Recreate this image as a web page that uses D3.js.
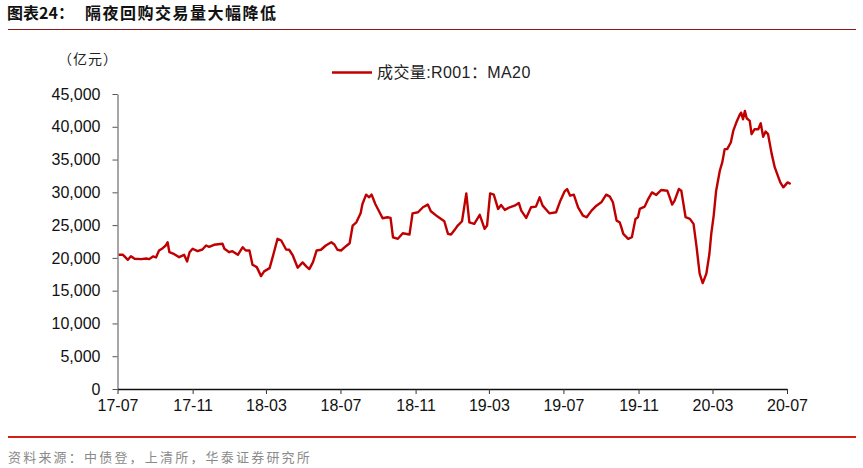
<!DOCTYPE html>
<html>
<head>
<meta charset="utf-8">
<script src="https://cdn.jsdelivr.net/npm/d3@7"></script>
<style>
  body { margin: 0; background: #fff; }
  svg { display: block; font-family: "Liberation Sans", Arial, "Noto Sans CJK SC", sans-serif; }
</style>
</head>
<body>
<div id="chart"></div>
<script>
// ---- data ----
var titleLead = "图表24：";
var titleText = "隔夜回购交易量大幅降低";
var unitLabel = "（亿元）";
var seriesName = "成交量:R001：MA20";
var sourceText = "资料来源：中债登，上清所，华泰证券研究所";

var xTickLabels = ["17-07", "17-11", "18-03", "18-07", "18-11", "19-03", "19-07", "19-11", "20-03", "20-07"];
var yTicks = [0, 5000, 10000, 15000, 20000, 25000, 30000, 35000, 40000, 45000];

var dates = [
  "2017-07-03","2017-07-10","2017-07-18","2017-07-23","2017-07-29","2017-08-09","2017-08-17","2017-08-22","2017-08-28","2017-09-02",
  "2017-09-07","2017-09-13","2017-09-18","2017-09-21","2017-09-24","2017-10-02","2017-10-10","2017-10-18","2017-10-23","2017-10-27",
  "2017-11-01","2017-11-09","2017-11-17","2017-11-23","2017-11-28","2017-12-06","2017-12-20","2017-12-23","2017-12-31","2018-01-05",
  "2018-01-14","2018-01-22","2018-01-27","2018-02-02","2018-02-07","2018-02-14","2018-02-21","2018-02-26","2018-03-07","2018-03-12",
  "2018-03-20","2018-03-26","2018-04-03","2018-04-08","2018-04-14","2018-04-22","2018-04-30","2018-05-06","2018-05-11","2018-05-17",
  "2018-05-23","2018-05-30","2018-06-07","2018-06-16","2018-06-21","2018-06-26","2018-07-02","2018-07-10","2018-07-16","2018-07-21",
  "2018-07-27","2018-08-03","2018-08-06","2018-08-12","2018-08-17","2018-08-21","2018-08-27","2018-09-03","2018-09-08","2018-09-16",
  "2018-09-21","2018-09-25","2018-10-03","2018-10-11","2018-10-22","2018-10-27","2018-11-05","2018-11-13","2018-11-21","2018-11-26",
  "2018-12-07","2018-12-18","2018-12-24","2018-12-29","2019-01-04","2019-01-09","2019-01-16","2019-01-23","2019-01-28","2019-02-05",
  "2019-02-14","2019-02-22","2019-02-26","2019-03-03","2019-03-09","2019-03-16","2019-03-21","2019-03-27","2019-04-04","2019-04-12",
  "2019-04-19","2019-04-23","2019-05-01","2019-05-09","2019-05-17","2019-05-23","2019-05-28","2019-06-08","2019-06-19","2019-06-26",
  "2019-07-03","2019-07-07","2019-07-12","2019-07-18","2019-07-25","2019-08-02","2019-08-08","2019-08-16","2019-08-24","2019-09-01",
  "2019-09-09","2019-09-15","2019-09-20","2019-09-26","2019-10-01","2019-10-03","2019-10-07","2019-10-15","2019-10-21","2019-10-27",
  "2019-10-31","2019-11-03","2019-11-11","2019-11-16","2019-11-23","2019-11-30","2019-12-08","2019-12-18","2019-12-22","2019-12-26",
  "2019-12-30","2020-01-06","2020-01-10","2020-01-17","2020-01-24","2020-01-30","2020-02-04","2020-02-09","2020-02-14","2020-02-20",
  "2020-02-25","2020-02-28","2020-03-03","2020-03-07","2020-03-13","2020-03-17","2020-03-21","2020-03-25","2020-03-31","2020-04-04",
  "2020-04-09","2020-04-15","2020-04-17","2020-04-20","2020-04-23","2020-04-26","2020-05-01","2020-05-04","2020-05-09","2020-05-15",
  "2020-05-19","2020-05-23","2020-05-27","2020-05-31","2020-06-06","2020-06-11","2020-06-14","2020-06-20","2020-06-25","2020-07-02",
  "2020-07-07"
];

var volume = [
  20470,20470,19710,20260,19860,19810,19910,19810,20220,20070,
  21130,21480,21890,22390,20870,20570,20110,20470,19460,20870,
  21390,21030,21280,21890,21690,22000,22150,21390,20870,21030,
  20470,21630,21130,21130,18960,18590,17220,17940,18440,20110,
  22910,22650,21280,21240,20370,18500,19310,18700,18290,19350,
  21130,21240,21890,22390,22040,21240,21130,21780,22240,24930,
  25430,26800,28230,29650,29240,29650,28230,26960,26050,26200,
  26100,23150,22910,23760,23560,26800,26960,27720,28130,27110,
  26300,25590,23670,23560,24280,24930,25590,29840,25430,25190,
  26560,24430,24930,29840,29650,27470,28080,27320,27720,27970,
  28380,27210,26100,27720,27820,29240,27970,26800,26960,28730,
  30150,30510,29490,29650,27720,26450,26200,27210,27970,28480,
  29650,29340,28480,25690,25430,24930,23670,22910,23150,25950,
  26200,27470,27820,28840,29990,29600,30360,30250,29240,28130,
  28730,30510,30250,26200,25950,25190,21630,17590,16160,17590,
  20630,23670,26450,30250,33290,34560,36590,36590,37600,39370,
  40640,41910,42160,41150,42420,41300,40900,38870,39630,39630,
  40540,38460,39270,38870,35830,33800,33040,31520,30760,31520,
  31270
];

// ---- layout ----
var width = 863,
    height = 468,
    plotLeft = 117.5,
    plotRight = 787,
    plotTop = 94,
    plotBottom = 389;

var parseDay = d3.timeParse("%Y-%m-%d");
var parseTick = d3.timeParse("%y-%m");

var points = dates.map(function(d, i) {
  return { date: parseDay(d), value: volume[i] };
});

var svg = d3.select("#chart").append("svg")
    .attr("width", width)
    .attr("height", height);

// title
svg.append("text")
    .attr("x", 7)
    .attr("y", 19)
    .style("font-family", "'Noto Sans CJK SC', sans-serif")
    .style("font-weight", "bold")
    .style("font-size", "16px")
    .style("fill", "#111")
    .text(titleLead);

svg.append("text")
    .attr("x", 85)
    .attr("y", 19)
    .style("font-family", "'Noto Sans CJK SC', sans-serif")
    .style("font-weight", "bold")
    .style("font-size", "16px")
    .style("letter-spacing", "1.5px")
    .style("fill", "#111")
    .text(titleText);

svg.append("line")
    .attr("x1", 8).attr("x2", 856)
    .attr("y1", 29.5).attr("y2", 29.5)
    .style("stroke", "#8c1a1a")
    .style("stroke-width", 1);

// scales
var xScale = d3.scaleTime()
    .domain([parseTick("17-07"), parseTick("20-07")])
    .range([plotLeft, plotRight]);

var yScale = d3.scaleLinear()
    .domain([0, 45000])
    .range([plotBottom, plotTop]);

// y axis
var yaxis = d3.axisLeft(yScale)
    .tickValues(yTicks)
    .tickSize(5)
    .tickSizeOuter(0)
    .tickPadding(12)
    .tickFormat(d3.format(","));

var gy = svg.append("g")
    .attr("transform", "translate(" + plotLeft + ",0)")
    .call(yaxis);

gy.select(".domain").style("stroke", "#777").style("stroke-width", 1.3);
gy.selectAll(".tick line").style("stroke", "#555");
gy.selectAll(".tick text")
    .style("font-family", "'Liberation Sans', Arial, sans-serif")
    .style("font-size", "16px")
    .style("fill", "#111");

// x axis
var xaxis = d3.axisBottom(xScale)
    .tickValues(xTickLabels.map(function(t) { return parseTick(t); }))
    .tickFormat(d3.timeFormat("%y-%m"))
    .tickSize(5)
    .tickSizeOuter(0)
    .tickPadding(6);

var gx = svg.append("g")
    .attr("transform", "translate(0," + plotBottom + ")")
    .call(xaxis);

gx.select(".domain").style("stroke", "#111").style("stroke-width", 1.3);
gx.selectAll(".tick line").style("stroke", "#333");
gx.selectAll(".tick text")
    .style("font-family", "'Liberation Sans', Arial, sans-serif")
    .style("font-size", "16px")
    .style("fill", "#111");

// unit label
svg.append("text")
    .attr("x", 58)
    .attr("y", 64)
    .style("font-family", "'Noto Sans CJK SC', sans-serif")
    .style("font-size", "14px")
    .style("letter-spacing", "1px")
    .style("fill", "#222")
    .text(unitLabel);

// the series
var line = d3.line()
    .x(function(d) { return xScale(d.date); })
    .y(function(d) { return yScale(d.value); });

svg.append("path")
    .datum(points)
    .attr("d", line)
    .style("fill", "none")
    .style("stroke", "#c00000")
    .style("stroke-width", 2.4)
    .style("stroke-linejoin", "round");

// legend
svg.append("line")
    .attr("x1", 332).attr("x2", 372)
    .attr("y1", 72.5).attr("y2", 72.5)
    .style("stroke", "#c00000")
    .style("stroke-width", 2.4);

svg.append("text")
    .attr("x", 377)
    .attr("y", 78)
    .style("font-family", "'Liberation Sans', Arial, 'Noto Sans CJK SC', sans-serif")
    .style("font-size", "16px")
    .style("letter-spacing", "0.4px")
    .style("fill", "#222")
    .text(seriesName);

// footer
svg.append("line")
    .attr("x1", 8).attr("x2", 856)
    .attr("y1", 437).attr("y2", 437)
    .style("stroke", "#d0201a")
    .style("stroke-width", 2.2);

svg.append("text")
    .attr("x", 8)
    .attr("y", 462)
    .style("font-family", "'Noto Sans CJK SC', sans-serif")
    .style("font-size", "13px")
    .style("letter-spacing", "2.2px")
    .style("fill", "#8a8a8a")
    .text(sourceText);
</script>
</body>
</html>
